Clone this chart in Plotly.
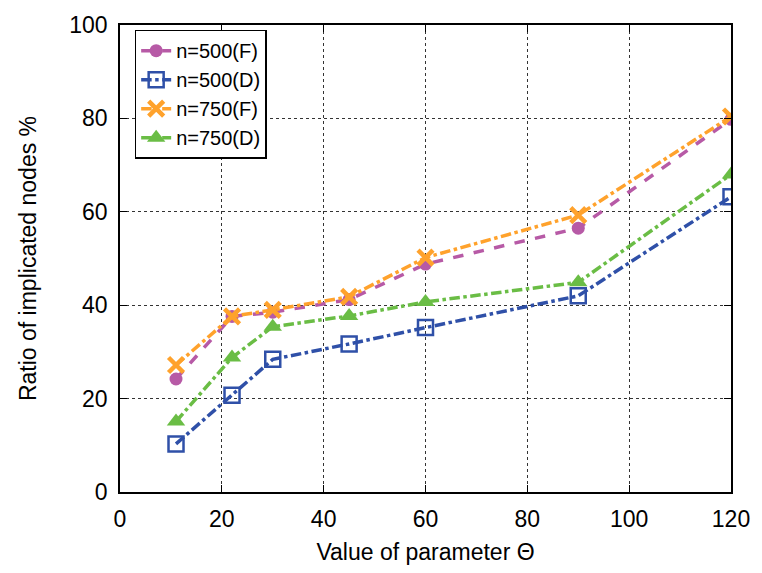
import plotly.graph_objects as go

theta = [11, 22, 30, 45, 60, 90, 120]
n500_F = [24.2, 37.6, 38.5, 41.2, 48.8, 56.5, 79.8]
n500_D = [10.3, 20.7, 28.4, 31.7, 35.2, 42.0, 63.2]
n750_F = [27.2, 37.6, 39.0, 41.8, 50.2, 59.3, 80.4]
n750_D = [15.1, 28.8, 35.4, 37.7, 40.7, 44.9, 68.0]

series_names = ["n=500(F)", "n=500(D)", "n=750(F)", "n=750(D)"]
x_ticks = [0, 20, 40, 60, 80, 100, 120]
y_ticks = [0, 20, 40, 60, 80, 100]

FONT = "Liberation Sans"

fig = go.Figure()
styles = [
    (n500_F, "#b75aa6", "dash", dict(symbol="circle", size=13)),
    (n500_D, "#2f50a8", "dashdot", dict(symbol="square-open", size=15, line=dict(width=2.5))),
    (n750_F, "#ffa22c", "dashdot", dict(symbol="x-thin-open", size=15, line=dict(width=4.5, color="#ffa22c"))),
    (n750_D, "#6abd45", "dashdot", dict(symbol="triangle-up", size=16)),
]
for name, (vals, col, dash, mk) in zip(series_names, styles):
    mk = dict(mk)
    mk["color"] = col
    fig.add_trace(go.Scatter(
        x=theta, y=vals, name=name, mode="lines+markers",
        line=dict(color=col, width=3.5, dash=dash),
        marker=mk,
    ))

axis_common = dict(
    showline=True, linecolor="black", linewidth=1.5, mirror="ticks",
    ticks="inside", ticklen=7, tickcolor="black", tickwidth=1,
    showgrid=True, gridcolor="#333333", gridwidth=1, griddash="dot",
    zeroline=False,
    tickfont=dict(family=FONT, size=23, color="black"),
)

fig.update_layout(
    width=762, height=573,
    margin=dict(l=120, r=25, t=18, b=80),
    paper_bgcolor="white", plot_bgcolor="white",
    font=dict(family=FONT, size=23, color="black"),
    xaxis=dict(range=[0, 120], tickvals=x_ticks, ticklabelstandoff=6,
               title=dict(text="Value of parameter Θ", font=dict(size=23), standoff=13),
               **axis_common),
    yaxis=dict(range=[0, 100], tickvals=y_ticks, ticklabelstandoff=6,
               title=dict(text="Ratio of implicated nodes %", font=dict(size=23), standoff=26),
               **axis_common),
    legend=dict(x=0.024, y=0.99, xanchor="left", yanchor="top",
                bgcolor="white", bordercolor="black", borderwidth=1.5,
                font=dict(family=FONT, size=20, color="black"),
                tracegroupgap=0),
    showlegend=True,
)

fig.write_html("out.html", config={"displayModeBar": False},
               post_script="document.body.style.margin='0';")
